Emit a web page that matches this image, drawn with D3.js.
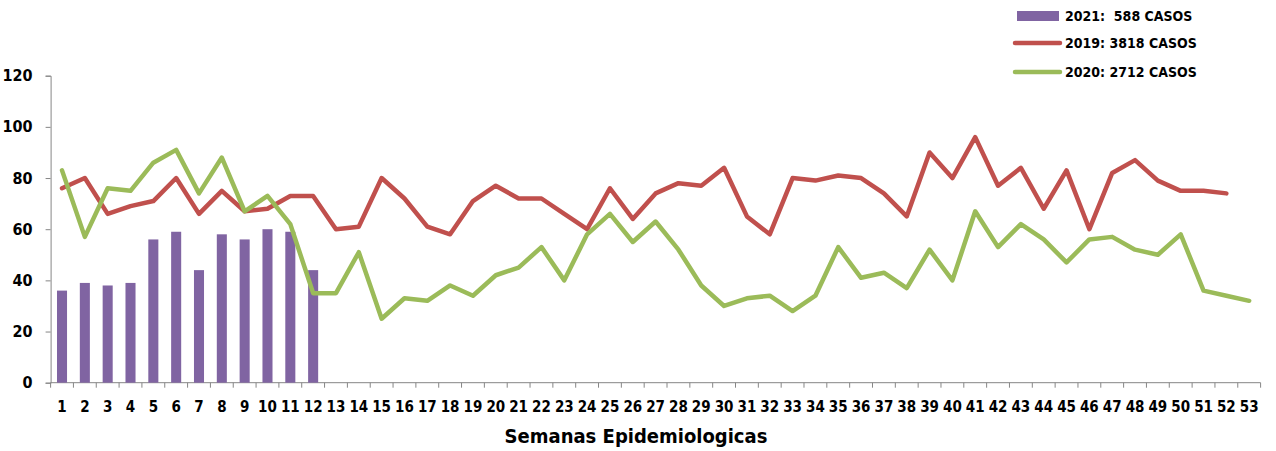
<!DOCTYPE html>
<html><head><meta charset="utf-8">
<script src="https://cdn.jsdelivr.net/npm/d3@7"></script>
<style>body{margin:0;background:#fff}svg{display:block}</style>
</head><body>
<svg id="c" width="1276" height="451"></svg>
<script>
const weeks = d3.range(1, 54).map(String);
const cases2021 = [36,39,38,39,56,59,44,58,56,60,59,44];
const cases2019 = [76,80,66,69,71,80,66,75,67,68,73,73,60,61,80,72,61,58,71,77,72,72,66,60,76,64,74,78,77,84,65,58,80,79,81,80,74,65,90,80,96,77,84,68,83,60,82,87,79,75,75,74];
const cases2020 = [83,57,76,75,86,91,74,88,67,73,62,35,35,51,25,33,32,38,34,42,45,53,40,58,66,55,63,52,38,30,33,34,28,34,53,41,43,37,52,40,67,53,62,56,47,56,57,52,50,58,36,34,32];
const yTicks = [0,20,40,60,80,100,120];
const legendLabels = ["2021:  588 CASOS","2019: 3818 CASOS","2020: 2712 CASOS"];

const font = '"Liberation Sans Narrow","DejaVu Sans Condensed",sans-serif';
const svg = d3.select("#c");
const x = d3.scaleBand().domain(weeks).range([50.6, 1260.6]);
const y = d3.scaleLinear().domain([0,120]).range([382.7, 75.7]);
const axisColor = "#868686";

// axes
const yAxis = svg.append("g").attr("transform","translate(50.6,0)")
  .call(d3.axisLeft(y).tickValues(yTicks).tickSize(5).tickPadding(13));
yAxis.selectAll("path,line").attr("stroke",axisColor);
yAxis.selectAll("text").attr("font-family",font).attr("font-weight","bold").attr("font-size","16px").attr("fill","#000");

const xg = svg.append("g").attr("transform","translate(0,382.7)");
xg.append("line").attr("x1",50.6).attr("x2",1260.6).attr("stroke",axisColor);
xg.selectAll("line.t").data(weeks.concat(["end"])).enter().append("line")
  .attr("x1",(d,i)=> i<weeks.length ? x(d) : x.range()[1])
  .attr("x2",(d,i)=> i<weeks.length ? x(d) : x.range()[1])
  .attr("y1",0).attr("y2",5).attr("stroke",axisColor);
xg.selectAll("text").data(weeks).enter().append("text")
  .attr("x",d=>x(d)+x.bandwidth()/2).attr("y",29).attr("text-anchor","middle")
  .attr("font-family",font).attr("font-weight","bold").attr("font-size","15px").text(d=>d);

svg.append("text").attr("x",636).attr("y",443).attr("text-anchor","middle")
  .attr("font-family",font).attr("font-weight","bold").attr("font-size","20px").text("Semanas Epidemiologicas");

// bars
const bw = x.bandwidth()*0.44;
svg.selectAll("rect.bar").data(cases2021).enter().append("rect")
  .attr("x",(d,i)=>x(weeks[i])+x.bandwidth()/2-bw/2).attr("width",bw)
  .attr("y",d=>y(d)).attr("height",d=>y(0)-y(d)).attr("fill","#8064A2");

const line = d3.line().x((d,i)=>x(weeks[i])+x.bandwidth()/2).y(d=>y(d));
svg.append("path").datum(cases2019).attr("d",line).attr("fill","none")
  .attr("stroke","#C0504D").attr("stroke-width",4.5).attr("stroke-linejoin","round").attr("stroke-linecap","round");
svg.append("path").datum(cases2020).attr("d",line).attr("fill","none")
  .attr("stroke","#9BBB59").attr("stroke-width",4.5).attr("stroke-linejoin","round").attr("stroke-linecap","round");

// legend
const lg = svg.append("g");
lg.append("rect").attr("x",1017).attr("y",11).attr("width",42).attr("height",10).attr("fill","#8064A2");
lg.append("line").attr("x1",1015).attr("x2",1060).attr("y1",43).attr("y2",43).attr("stroke","#C0504D").attr("stroke-width",4.5).attr("stroke-linecap","round");
lg.append("line").attr("x1",1015).attr("x2",1060).attr("y1",72).attr("y2",72).attr("stroke","#9BBB59").attr("stroke-width",4.5).attr("stroke-linecap","round");
legendLabels.forEach((t,i)=>{
  lg.append("text").attr("x",1065).attr("y",[21,48,77][i]).attr("font-family",font)
    .attr("font-weight","bold").attr("font-size","14px").attr("xml:space","preserve").style("white-space","pre").text(t);
});
</script>
</body></html>
